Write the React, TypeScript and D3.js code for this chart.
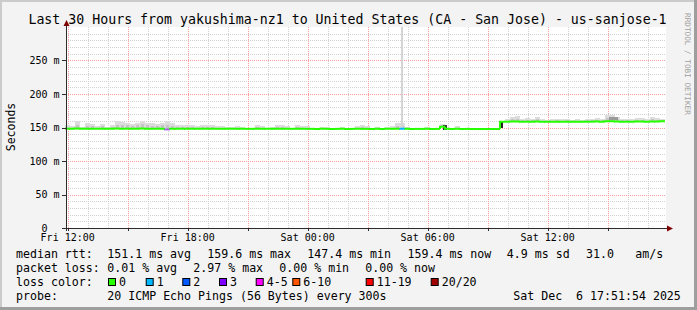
import React from "react";
import * as d3 from "d3";

const W = 697;
const H = 310;
const FONT = "DejaVu Sans Mono";

const endTime = new Date(2025, 11, 6, 17, 51, 54);
const startTime = new Date(endTime.getTime() - 30 * 3600 * 1000);
const BIN_MIN = 15;

// median rtt per 15-minute bin (ms)
const medianMs = [
  148.3, 148.2, 148.4, 148.2, 148.3, 148.2, 148.2, 148.3, 148.1, 148.2, 148.4, 148.3, 148.3, 148.2, 148.3, 148.4, 148.3, 148.2, 148.2, 148.3,
  147.0, 148.3, 148.2, 148.2, 148.1, 148.2, 148.1, 148.2, 148.2, 148.1, 148.1, 148.1, 148.0, 148.1, 148.1, 148.0, 148.0, 148.0, 148.1, 148.1,
  148.0, 148.0, 148.1, 148.1, 148.0, 148.0, 148.1, 148.0, 148.0, 148.0, 147.9, 148.0, 148.0, 147.9, 147.9, 148.0, 147.9, 147.9, 148.0, 148.0,
  148.0, 147.9, 148.0, 147.9, 148.0, 148.0, 148.2, 148.1, 148.0, 147.9, 147.9, 147.9, 148.0, 147.9, 147.9, 151.0, 148.0, 147.9, 148.0, 147.9,
  147.9, 147.8, 147.8, 147.8, 147.8, 147.8, 147.8, 158.4, 158.6, 158.8, 158.9, 158.7, 158.7, 158.6, 158.8, 158.6, 158.5, 158.6, 158.7, 158.6,
  158.7, 158.5, 158.6, 158.5, 158.7, 158.7, 158.8, 158.7, 159.2, 159.3, 158.9, 158.7, 158.7, 158.6, 158.9, 158.9, 158.7, 159.1, 159.0, 159.4,
];

// highest ping per bin (light smoke)
const smokeMaxMs = [
  153, 152, 160, 151, 156, 155, 152, 155, 151, 154, 159, 158, 156, 155, 156, 160, 157, 156, 155, 157,
  159, 156, 153, 154, 153, 154, 152, 153, 153, 153, 152, 152, 151, 151, 152, 151, 150, 150, 153, 152,
  150, 151, 153, 153, 152, 150, 153, 152, 152, 150, 150, 151, 151, 150, 150, 151, 150, 150, 152, 153,
  152, 150, 151, 150, 151, 152, 156, 157, 151, 150, 150, 150, 151, 150, 150, 155, 150, 150, 152, 150,
  150, 149, 149, 149, 149, 149, 149, 160, 162, 166, 167, 163, 164, 163, 165, 162, 161, 162, 163, 162,
  163, 161, 162, 161, 163, 163, 164, 163, 168, 169, 166, 163, 163, 162, 164, 164, 162, 165, 164, 163,
];

// inner smoke band per bin
const smokeMidMs = [
  150, 150, 153, 149.5, 152, 152, 150, 152, 149.5, 151, 154, 154, 153, 152, 153, 155, 153, 152, 152, 153,
  154, 152, 151, 151, 150.5, 151, 150, 150.5, 151, 150.5, 150, 150, 149.5, 149.5, 150, 149.5, 149, 149, 150.5, 150,
  149, 149.5, 150.5, 150.5, 150, 149, 150.5, 150, 150, 149, 149, 149.5, 149.5, 149, 149, 149.5, 149, 149, 150, 150.5,
  150, 149, 149.5, 149, 149.5, 150, 152, 152, 149.5, 149, 149, 149, 149.5, 149, 149, 153, 149, 149, 150, 149,
  149, 148.5, 148.5, 148.5, 148.5, 148.5, 148.5, 159.5, 160, 162, 162, 160.5, 161, 160.5, 162, 160, 159.5, 160, 160.5, 160,
  160.5, 159.5, 160, 159.5, 160.5, 160.5, 161, 160.5, 164, 165, 162, 160.5, 160.5, 160, 161, 161, 160, 162, 161, 160.5,
];

// [bin index, lost pings]
const lossBins: [number, number][] = [
  [20, 3],
  [67, 1],
];

const spikes = [
  { from: new Date(2025, 11, 6, 4, 40), to: new Date(2025, 11, 6, 4, 46), lo: 149, hi: 330 },
];

const darkSpots = [
  { from: new Date(2025, 11, 6, 6, 45), to: new Date(2025, 11, 6, 6, 57), lo: 147, hi: 153.5, shade: "#3a3a3a" },
  { from: new Date(2025, 11, 6, 9, 40), to: new Date(2025, 11, 6, 9, 46), lo: 149, hi: 159, shade: "#222222" },
  { from: new Date(2025, 11, 6, 15, 4), to: new Date(2025, 11, 6, 15, 30), lo: 161, hi: 165.5, shade: "#9a9a9a" },
];

const yTicks = [0, 50, 100, 150, 200, 250];

const lossLabels = ["0", "1", "2", "3", "4-5", "6-10", "11-19", "20/20"];
const lossColors = ["#26ff00", "#00b8ff", "#0059ff", "#7e00ff", "#ff00ff", "#ff5500", "#ff0000", "#a10000"];
const lossLegendX = [108, 145.7, 182.3, 219, 255.7, 292.3, 365.7, 430.7];

const titleText = "Last 30 Hours from yakushima-nz1 to United States (CA - San Jose) - us-sanjose-1";

const legendRows: { y: number; items: [number, string][] }[] = [
  {
    y: 257.5,
    items: [
      [16, "median rtt:"],
      [107.3, "151.1 ms avg"],
      [207.3, "159.6 ms max"],
      [307.3, "147.4 ms min"],
      [407.5, "159.4 ms now"],
      [506.8, "4.9 ms sd"],
      [586, "31.0"],
      [635.3, "am/s"],
    ],
  },
  {
    y: 271.5,
    items: [
      [16, "packet loss:"],
      [107.3, "0.01 % avg"],
      [193.3, "2.97 % max"],
      [279.3, "0.00 % min"],
      [365.2, "0.00 % now"],
    ],
  },
  { y: 285.5, items: [[16, "loss color:"]] },
  {
    y: 299.5,
    items: [
      [16, "probe:"],
      [107.3, "20 ICMP Echo Pings (56 Bytes) every 300s"],
      [513.3, "Sat Dec  6 17:51:54 2025"],
    ],
  },
];

function lossIndex(n: number) {
  if (n <= 0) return 0;
  if (n <= 3) return n;
  if (n <= 5) return 4;
  if (n <= 10) return 5;
  if (n <= 19) return 6;
  return 7;
}

export default function App() {
  const left = 65;
  const right = 665;
  const top = 27;
  const bottom = 228;
  const x = d3.scaleTime().domain([startTime, endTime]).range([left, right]);
  const y = d3.scaleLinear().domain([0, 300]).range([bottom, top]);

  const binStart = (i: number) => new Date(startTime.getTime() + i * BIN_MIN * 60000);
  const binEnd = (i: number) => new Date(startTime.getTime() + (i + 1) * BIN_MIN * 60000);

  const lossMap = new Map<number, number>(lossBins);

  const minorY = d3.range(10, 300, 10).filter((v) => v % 50 !== 0);
  const majorY = d3.range(50, 300, 50);
  const hourTicks = d3.timeHour.every(1)!.range(startTime, endTime);
  const minorX = hourTicks.filter((d) => d.getHours() % 3 !== 0);
  const majorX = hourTicks.filter((d) => d.getHours() % 3 === 0);
  const labelX = hourTicks.filter((d) => d.getHours() % 6 === 0);
  const fmt = d3.timeFormat("%a %H:%M");

  const clampY = (v: number) => Math.max(top, y(v));

  return (
    <svg
      width={W}
      height={H}
      style={{ position: "absolute", left: 0, top: 0, display: "block" }}
      fontFamily={FONT}
    >
      <rect x={0} y={0} width={W} height={H} fill="#f3f3f3" />
      <rect x={0} y={0} width={W} height={2} fill="#cbcbcb" />
      <rect x={0} y={0} width={2} height={H} fill="#cbcbcb" />
      <rect x={W - 3} y={0} width={3} height={H} fill="#9e9e9e" />
      <rect x={0} y={H - 3} width={W} height={3} fill="#9e9e9e" />

      <rect x={left + 1} y={top} width={right - left} height={bottom - top} fill="#ffffff" />

      {/* grid */}
      <g strokeWidth={1} strokeDasharray="1,1">
        {minorY.map((v) => (
          <line key={"my" + v} x1={left + 1} x2={right + 1} y1={Math.round(y(v)) + 0.5} y2={Math.round(y(v)) + 0.5} stroke="#d2d2d2" />
        ))}
        {minorX.map((d) => (
          <line key={"mx" + d.getTime()} x1={Math.round(x(d)) + 0.5} x2={Math.round(x(d)) + 0.5} y1={top} y2={bottom} stroke="#d2d2d2" />
        ))}
        {majorY.map((v) => (
          <line key={"My" + v} x1={left + 1} x2={right + 1} y1={Math.round(y(v)) + 0.5} y2={Math.round(y(v)) + 0.5} stroke="#ff9c9c" />
        ))}
        {majorX.map((d) => (
          <line key={"Mx" + d.getTime()} x1={Math.round(x(d)) + 0.5} x2={Math.round(x(d)) + 0.5} y1={top} y2={bottom} stroke="#ff9c9c" />
        ))}
      </g>

      {/* smoke */}
      <g shapeRendering="crispEdges">
        {smokeMaxMs.map((v, i) => (
          <rect
            key={"s1" + i}
            x={x(binStart(i))}
            width={x(binEnd(i)) - x(binStart(i))}
            y={y(v)}
            height={Math.max(0, y(medianMs[i]) - y(v))}
            fill="#dcdcdc"
          />
        ))}
        {smokeMidMs.map((v, i) => (
          <rect
            key={"s2" + i}
            x={x(binStart(i)) + 1}
            width={x(binEnd(i)) - x(binStart(i)) - 2}
            y={y(v)}
            height={Math.max(0, y(medianMs[i]) - y(v))}
            fill="#c4c4c4"
          />
        ))}
        {spikes.map((s, i) => (
          <rect
            key={"sp" + i}
            x={x(s.from)}
            width={x(s.to) - x(s.from)}
            y={clampY(s.hi)}
            height={y(s.lo) - clampY(s.hi)}
            fill="#d4d4d4"
          />
        ))}
        {darkSpots.map((s, i) => (
          <rect
            key={"dk" + i}
            x={x(s.from)}
            width={x(s.to) - x(s.from)}
            y={y(s.hi)}
            height={y(s.lo) - y(s.hi)}
            fill={s.shade}
          />
        ))}
      </g>

      {/* median */}
      <g fill="none" strokeWidth={2}>
        {medianMs.map((v, i) => {
          const prev = i > 0 ? medianMs[i - 1] : v;
          const loss = lossMap.get(i) ?? 0;
          const col = lossColors[lossIndex(loss)];
          const x0 = x(binStart(i));
          const x1 = Math.min(x(binEnd(i)), x(endTime));
          return (
            <path
              key={"m" + i}
              d={`M${x0},${y(prev)}V${y(v)}H${x1}`}
              stroke={col}
              strokeOpacity={loss === 3 ? 0.5 : 1}
            />
          );
        })}
      </g>

      {/* axes */}
      <g shapeRendering="crispEdges">
        <line x1={62} x2={669} y1={bottom + 0.5} y2={bottom + 0.5} stroke="#2c2c2c" />
        <line x1={66.5} x2={66.5} y1={bottom + 3} y2={23} stroke="#2c2c2c" />
        {yTicks.map((v) => (
          <line key={"yt" + v} x1={62} x2={66} y1={Math.round(y(v)) + 0.5} y2={Math.round(y(v)) + 0.5} stroke="#2c2c2c" />
        ))}
        {majorX.map((d) => (
          <line key={"xt" + d.getTime()} x1={Math.round(x(d)) + 0.5} x2={Math.round(x(d)) + 0.5} y1={bottom} y2={bottom + 3} stroke="#2c2c2c" />
        ))}
      </g>
      <path d="M66.5,20 L63.5,26 L69.5,26 Z" fill="#7f0000" />
      <path d="M673,228.5 L667,225.5 L667,231.5 Z" fill="#7f0000" />

      {/* axis labels */}
      {yTicks.map((v) => (
        <text
          key={"yl" + v}
          x={59.5}
          y={y(v) + 3.5}
          fontSize={10}
          textAnchor="end"
          style={{ whiteSpace: "pre" }}
          fill="#000"
        >
          {v === 0 ? "0  " : `${v} m`}
        </text>
      ))}
      {labelX.map((d) => (
        <text key={"xl" + d.getTime()} x={x(d)} y={240.7} fontSize={10} textAnchor="middle" fill="#000">
          {fmt(d)}
        </text>
      ))}

      <text x={14.5} y={127} fontSize={11.5} textAnchor="middle" transform="rotate(-90 14.5 127)" fill="#000">
        Seconds
      </text>

      <text x={347.5} y={24} fontSize={13.25} textAnchor="middle" fill="#000">
        {titleText}
      </text>

      <text x={684.5} y={13} fontSize={7.7} transform="rotate(90 684.5 13)" fill="#a0a0a0">
        RRDTOOL / TOBI OETIKER
      </text>

      {/* legend */}
      {legendRows.map((row, ri) =>
        row.items.map(([lx, t], ii) => (
          <text key={"lg" + ri + "-" + ii} x={lx} y={row.y} fontSize={11.6} fill="#000" style={{ whiteSpace: "pre" }}>
            {t}
          </text>
        ))
      )}
      {lossLabels.map((lab, i) => (
        <g key={"ll" + i}>
          <rect x={lossLegendX[i] + 0.5} y={278.5} width={7} height={7} fill={lossColors[i]} stroke="#000" strokeWidth={1} />
          <text x={lossLegendX[i] + 11} y={285.5} fontSize={11.6} fill="#000">
            {lab}
          </text>
        </g>
      ))}
    </svg>
  );
}
